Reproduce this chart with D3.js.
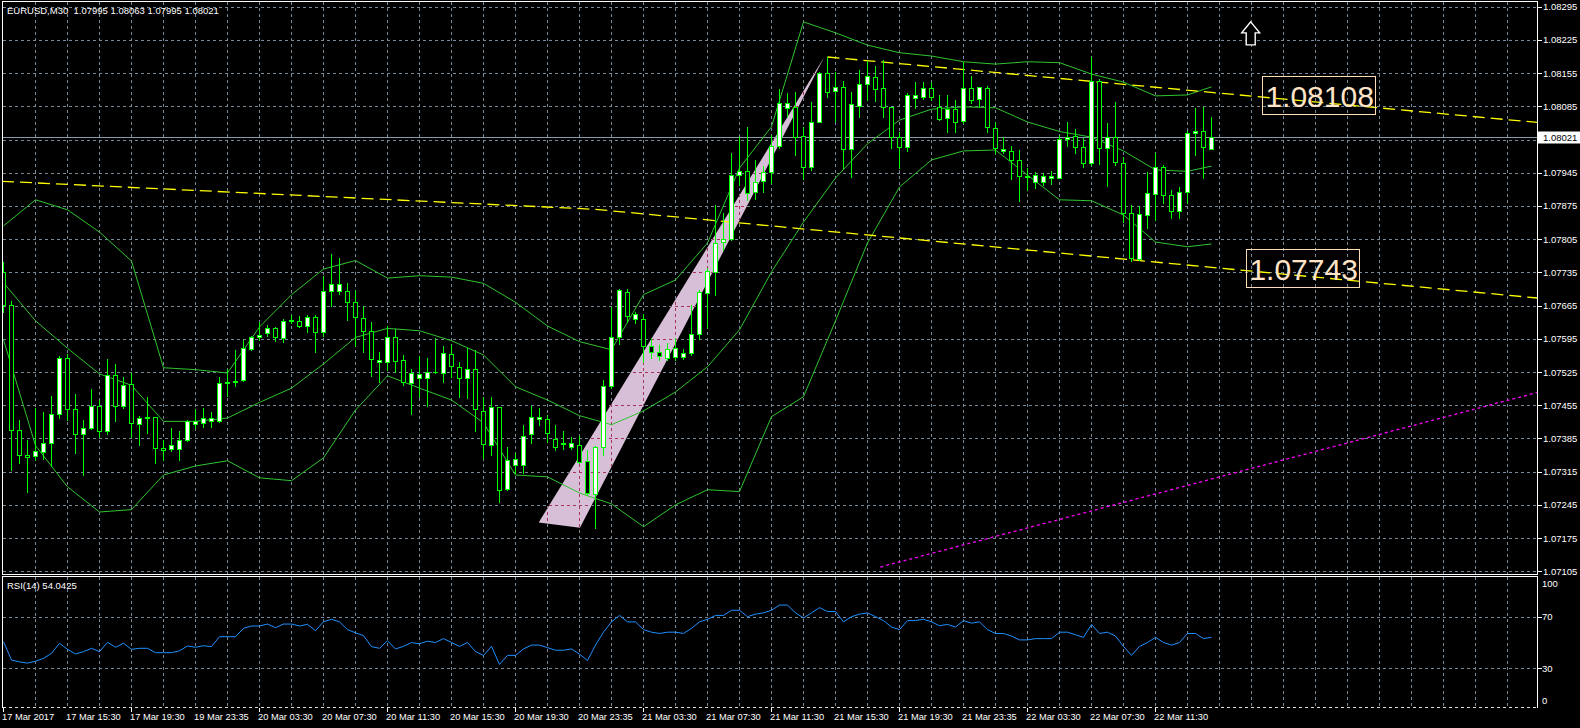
<!DOCTYPE html>
<html><head><meta charset="utf-8">
<script src="https://cdn.jsdelivr.net/npm/d3@7"></script>
<style>
html,body{margin:0;padding:0;background:#000;overflow:hidden}
svg{display:block}
text{font-family:"Liberation Sans",Arial,sans-serif}
</style></head><body>
<svg id="c" width="1580" height="728"></svg>
<script>
// ---------------- DATA ----------------
const symbolTitle = "EURUSD,M30  1.07995 1.08063 1.07995 1.08021";
const rsiTitle = "RSI(14) 54.0425";
const timeLabels = ["17 Mar 2017","17 Mar 15:30","17 Mar 19:30","19 Mar 23:35","20 Mar 03:30","20 Mar 07:30","20 Mar 11:30","20 Mar 15:30","20 Mar 19:30","20 Mar 23:35","21 Mar 03:30","21 Mar 07:30","21 Mar 11:30","21 Mar 15:30","21 Mar 19:30","21 Mar 23:35","22 Mar 03:30","22 Mar 07:30","22 Mar 11:30"];
const timeLabelBars = [0,8,16,24,32,40,48,56,64,72,80,88,96,104,112,120,128,136,144];
const priceTicks = [1.08295,1.08225,1.08155,1.08085,1.08015,1.07945,1.07875,1.07805,1.07735,1.07665,1.07595,1.07525,1.07455,1.07385,1.07315,1.07245,1.07175,1.07105];
const priceTickHidden = [1.08015]; // covered by the current-price label
const rsiTicks = [100,70,30,0];
const rsiLevels = [70,30];
const currentPrice = 1.08021;

const open = [
1.07736,1.07666,1.07403,1.07350,1.07347,1.07357,1.07375,1.07436,1.07554,1.07447,
1.07394,1.07408,1.07454,1.07400,1.07518,1.07454,1.07499,1.07415,1.07428,1.07430,
1.07365,1.07362,1.07362,1.07382,1.07415,1.07417,1.07421,1.07421,1.07502,1.07505,
1.07508,1.07573,1.07598,1.07607,1.07617,1.07596,1.07633,1.07633,1.07622,1.07641,
1.07609,1.07695,1.07695,1.07696,1.07672,1.07638,1.07612,1.07546,1.07546,1.07598,
1.07551,1.07502,1.07512,1.07512,1.07526,1.07523,1.07563,1.07535,1.07512,1.07531,
1.07442,1.07372,1.07451,1.07279,1.07329,1.07329,1.07394,1.07426,1.07426,1.07383,
1.07376,1.07368,1.07372,1.07338,1.07268,1.07367,1.07496,1.07598,1.07693,1.07636,
1.07636,1.07580,1.07567,1.07554,1.07556,1.07556,1.07565,1.07605,1.07691,1.07735,
1.07799,1.07805,1.07940,1.07949,1.07905,1.07928,1.07946,1.08002,1.08082,1.08084,
1.08023,1.07957,1.08053,1.08155,1.08118,1.08126,1.07995,1.08086,1.08132,1.08146,
1.08123,1.08083,1.08021,1.08000,1.08102,1.08104,1.08123,1.08084,1.08060,1.08079,
1.08054,1.08123,1.08100,1.08123,1.08039,1.07991,1.07991,1.07971,1.07938,1.07926,
1.07926,1.07933,1.07933,1.08016,1.08023,1.08000,1.07965,1.08139,1.07997,1.08021,
1.07966,1.07861,1.07763,1.07856,1.07900,1.07957,1.07898,1.07865,1.07905,1.08028,
1.08033,1.07995];
const high = [
1.07757,1.07675,1.07424,1.07382,1.07449,1.07440,1.07475,1.07558,1.07563,1.07479,
1.07424,1.07489,1.07466,1.07553,1.07542,1.07515,1.07524,1.07433,1.07473,1.07431,
1.07382,1.07407,1.07401,1.07424,1.07447,1.07449,1.07440,1.07514,1.07531,1.07572,
1.07593,1.07600,1.07631,1.07624,1.07620,1.07636,1.07645,1.07643,1.07645,1.07645,
1.07728,1.07774,1.07765,1.07712,1.07697,1.07664,1.07631,1.07568,1.07621,1.07615,
1.07561,1.07531,1.07558,1.07554,1.07596,1.07580,1.07582,1.07547,1.07575,1.07572,
1.07473,1.07472,1.07452,1.07368,1.07354,1.07414,1.07454,1.07449,1.07435,1.07414,
1.07400,1.07389,1.07390,1.07360,1.07369,1.07508,1.07663,1.07700,1.07700,1.07652,
1.07648,1.07597,1.07582,1.07586,1.07596,1.07573,1.07667,1.07698,1.07744,1.07877,
1.07860,1.07986,1.08020,1.08041,1.07972,1.07959,1.08025,1.08121,1.08113,1.08116,
1.08041,1.08095,1.08158,1.08189,1.08158,1.08139,1.08116,1.08162,1.08181,1.08170,
1.08183,1.08084,1.08030,1.08113,1.08137,1.08137,1.08137,1.08109,1.08109,1.08098,
1.08179,1.08149,1.08126,1.08128,1.08053,1.08020,1.08002,1.07992,1.07955,1.07947,
1.07944,1.07949,1.08025,1.08053,1.08037,1.08018,1.08190,1.08142,1.08049,1.08095,
1.07979,1.07877,1.07874,1.07947,1.07986,1.07961,1.07909,1.07916,1.08032,1.08081,
1.08084,1.08063];
const low = [
1.07652,1.07319,1.07333,1.07273,1.07340,1.07342,1.07326,1.07428,1.07424,1.07354,
1.07308,1.07405,1.07389,1.07395,1.07421,1.07450,1.07389,1.07372,1.07397,1.07333,
1.07340,1.07359,1.07340,1.07380,1.07407,1.07409,1.07409,1.07419,1.07475,1.07496,
1.07506,1.07572,1.07593,1.07600,1.07591,1.07589,1.07628,1.07620,1.07610,1.07568,
1.07600,1.07665,1.07689,1.07635,1.07579,1.07568,1.07517,1.07503,1.07530,1.07526,
1.07498,1.07437,1.07473,1.07454,1.07523,1.07505,1.07515,1.07473,1.07471,1.07400,
1.07344,1.07350,1.07252,1.07277,1.07312,1.07312,1.07375,1.07414,1.07378,1.07361,
1.07362,1.07362,1.07334,1.07266,1.07197,1.07350,1.07492,1.07584,1.07631,1.07628,
1.07546,1.07555,1.07551,1.07551,1.07551,1.07552,1.07561,1.07594,1.07617,1.07688,
1.07782,1.07803,1.07919,1.07888,1.07889,1.07905,1.07923,1.07997,1.08062,1.07983,
1.07931,1.07951,1.08051,1.08105,1.08055,1.07956,1.07936,1.08062,1.08098,1.08097,
1.08063,1.07997,1.07955,1.07990,1.08081,1.08100,1.08098,1.08056,1.08030,1.08030,
1.08049,1.08091,1.08084,1.08030,1.07986,1.07986,1.07931,1.07886,1.07909,1.07912,
1.07919,1.07921,1.07933,1.08002,1.07986,1.07957,1.07961,1.07964,1.07917,1.07961,
1.07842,1.07758,1.07761,1.07828,1.07846,1.07881,1.07849,1.07849,1.07882,1.07983,
1.07933,1.07995];
const close = [
1.07666,1.07402,1.07350,1.07346,1.07359,1.07375,1.07436,1.07554,1.07447,1.07394,
1.07407,1.07454,1.07400,1.07519,1.07454,1.07498,1.07417,1.07428,1.07430,1.07365,
1.07360,1.07371,1.07381,1.07422,1.07422,1.07428,1.07428,1.07502,1.07505,1.07506,
1.07575,1.07598,1.07603,1.07617,1.07598,1.07633,1.07635,1.07622,1.07641,1.07610,
1.07696,1.07710,1.07710,1.07672,1.07641,1.07612,1.07552,1.07551,1.07598,1.07549,
1.07505,1.07523,1.07521,1.07526,1.07525,1.07565,1.07537,1.07512,1.07531,1.07447,
1.07374,1.07451,1.07277,1.07340,1.07341,1.07391,1.07431,1.07431,1.07397,1.07367,
1.07374,1.07375,1.07336,1.07270,1.07367,1.07496,1.07598,1.07697,1.07643,1.07648,
1.07580,1.07567,1.07559,1.07573,1.07575,1.07565,1.07605,1.07693,1.07737,1.07797,
1.07805,1.07940,1.07949,1.07902,1.07926,1.07946,1.08002,1.08091,1.08091,1.08021,
1.07957,1.08053,1.08155,1.08116,1.08126,1.07995,1.08089,1.08132,1.08148,1.08121,
1.08083,1.08021,1.08000,1.08109,1.08109,1.08123,1.08104,1.08058,1.08079,1.08053,
1.08123,1.08098,1.08125,1.08041,1.07997,1.07995,1.07971,1.07938,1.07937,1.07940,
1.07938,1.07938,1.08016,1.08021,1.07999,1.07966,1.08139,1.07997,1.08021,1.07968,
1.07861,1.07765,1.07858,1.07903,1.07957,1.07898,1.07865,1.07905,1.08028,1.08033,
1.07999,1.08021];

// Bollinger bands at every 4th bar
const bbBars = [0,4,8,12,16,20,24,28,32,36,40,44,48,52,56,60,64,68,72,76,80,84,88,92,96,100,104,108,112,116,120,124,128,132,136,140,144,148,151];
const bbUpper = [1.07833,1.07888,1.07867,1.07820,1.07759,1.07534,1.07530,1.07523,1.07620,1.07688,1.07742,1.07760,1.07723,1.07728,1.07725,1.07712,1.07672,1.07622,1.07589,1.07572,1.07688,1.07719,1.07797,1.07955,1.08042,1.08263,1.08240,1.08214,1.08198,1.08191,1.08179,1.08174,1.08179,1.08177,1.08153,1.08136,1.08107,1.08109,1.08126];
const bbMiddle = [1.07713,1.07633,1.07575,1.07521,1.07497,1.07421,1.07421,1.07428,1.07461,1.07491,1.07542,1.07598,1.07617,1.07612,1.07591,1.07561,1.07494,1.07466,1.07433,1.07414,1.07443,1.07483,1.07536,1.07614,1.07736,1.07841,1.07934,1.08006,1.08056,1.08079,1.08084,1.08082,1.08052,1.08032,1.08020,1.07991,1.07951,1.07948,1.07959];
const bbLower = [1.07593,1.07370,1.07283,1.07230,1.07235,1.07308,1.07327,1.07338,1.07302,1.07296,1.07344,1.07445,1.07517,1.07491,1.07466,1.07418,1.07308,1.07304,1.07270,1.07247,1.07199,1.07245,1.07277,1.07273,1.07431,1.07473,1.07633,1.07797,1.07915,1.07972,1.07991,1.07993,1.07940,1.07888,1.07886,1.07856,1.07799,1.07789,1.07795];

const rsi = [
50.6,36.4,35,34,35.5,37.7,41.6,49.4,44.7,41.1,
42.9,45.5,42.9,50.2,46.3,49.4,44.7,45.5,45.5,42.1,
42.1,42.1,43.6,47.3,46.3,47.5,46.8,54.5,54.5,54.5,
61,62.8,62.8,64.3,61.5,64.3,64.3,62.8,64.1,59.1,
66.1,68,66,60,57.5,55.3,46.8,45.5,51.4,45,
47,50,49,51,50,53,50,47,50,43,
40,47,33,40,40,45,48,48,46,44,
44,45,41,36,48,58,66,71,66,66,
60,58,57,58,58,57,61,66,68,71,
71,75,75,70,72,73,75,79,79,73,
69,73,77,74,74,66,70,72,73,70,
67,62,60,67,67,68,66,63,64,62,
67,65,66,60,57,57,55,52,52,53,
53,53,58,58,56,54,64,57,58,55,
47,40,47,50,54,50,48,50,57,57,
53,54.04];

// drawn objects (bar index, price)
const trendUpper = [[103,1.08189],[191.75,1.08051]];
const trendLower = [[-0.19,1.07927],[73.9,1.07868],[191.75,1.07681]];
const magentaTrend = [[109.6,1.07114],[191.75,1.07482]];
const triangleBars = [66.9,72.06,102.6];
const trianglePrices = [1.07208,1.07197,1.08189];
const priceLabels = [
  {text:"1.08108", bar:157.3, price:1.08149},
  {text:"1.07743", bar:155.3, price:1.07784}
];
const arrowAnchor = {bar:155.9, price:1.08263};

// ---------------- LAYOUT ----------------
const svg = d3.select("#c");
const L = 2.5, R = 1537.5, T = 1.5, B = 574.5, RT = 576.5, RB = 707.5;
const x = d3.scaleLinear().domain([0,1]).range([3.5,11.5]);
const y = d3.scaleLinear().domain([1.07105,1.08295]).range([571.3,6.7]);
const yr = d3.scaleLinear().domain([0,100]).range([707,578]);
const px = v => Math.round(v) + 0.5;
const gridColor = "#778899";

svg.append("rect").attr("width",1580).attr("height",728).attr("fill","#000");

const defs = svg.append("defs");
defs.append("clipPath").attr("id","mainClip").append("rect")
  .attr("x",L).attr("y",T).attr("width",R-L).attr("height",B-T);
defs.append("clipPath").attr("id","rsiClip").append("rect")
  .attr("x",L).attr("y",RT).attr("width",R-L).attr("height",RB-RT);
const triPts = triangleBars.map((b,i)=>[x(b), y(trianglePrices[i])]);
defs.append("clipPath").attr("id","triClip").append("polygon")
  .attr("points", triPts.map(p=>p.join(",")).join(" "));

const gridBars = d3.range(4, 192, 4);

function drawGrid(g, color){
  g.selectAll("line.h").data(priceTicks).join("line")
    .attr("x1",L).attr("x2",R)
    .attr("y1",d=>px(y(d))).attr("y2",d=>px(y(d)))
    .attr("stroke",color).attr("stroke-dasharray","3,3");
  g.selectAll("line.v").data(gridBars).join("line").attr("class","v")
    .attr("x1",d=>x(d)).attr("x2",d=>x(d)).attr("y1",T).attr("y2",B)
    .attr("stroke",color).attr("stroke-dasharray","3,3");
}
const main = svg.append("g").attr("clip-path","url(#mainClip)").attr("shape-rendering","crispEdges");

// triangle object
main.append("polygon").attr("points", triPts.map(p=>p.join(",")).join(" "))
  .attr("fill","#d8bfd8").attr("shape-rendering","auto");
// grid
drawGrid(main.append("g"), gridColor);
drawGrid(main.append("g").attr("clip-path","url(#triClip)"), "#a8345a");

// current price line
main.append("line").attr("x1",L).attr("x2",R)
  .attr("y1",px(y(currentPrice))).attr("y2",px(y(currentPrice)))
  .attr("stroke","#8a9aaa");

// bollinger bands
const bbLine = d3.line().x(d=>x(d[0])).y(d=>y(d[1]));
[bbUpper,bbMiddle,bbLower].forEach(arr=>{
  main.append("path").datum(bbBars.map((b,i)=>[b,arr[i]]))
    .attr("d",bbLine).attr("fill","none").attr("stroke","#2fc42f").attr("stroke-width",1)
    .attr("shape-rendering","auto");
});

// trend lines
const tLine = d3.line().x(d=>x(d[0])).y(d=>y(d[1]));
function trend(pts, color, dash){
  main.append("path").datum(pts).attr("d",tLine).attr("fill","none")
    .attr("stroke",color).attr("stroke-width",1.3).attr("stroke-dasharray",dash)
    .attr("shape-rendering","auto");
}
trend(trendLower, "#ffff00", "12,6");
trend(trendUpper, "#ffff00", "12,6");
trend(magentaTrend, "#ff00ff", "3,3");

// candles
const idx = d3.range(open.length);
const cg = main.append("g");
cg.selectAll("line.w").data(idx).join("line")
  .attr("x1",i=>x(i)).attr("x2",i=>x(i))
  .attr("y1",i=>Math.round(y(high[i]))).attr("y2",i=>Math.round(y(low[i]))+1)
  .attr("stroke","#00ff00");
cg.selectAll("rect.b").data(idx).join("rect")
  .attr("x",i=>x(i)-2).attr("width",4)
  .attr("y",i=>px(y(Math.max(open[i],close[i]))))
  .attr("height",i=>Math.max(0.01, Math.round(y(Math.min(open[i],close[i]))) - Math.round(y(Math.max(open[i],close[i])))))
  .attr("fill",i=>close[i]>=open[i]?"#ffffff":"#000000")
  .attr("stroke","#00ff00");

// price labels objects
priceLabels.forEach(p=>{
  const bx = x(p.bar), by = y(p.price);
  main.append("rect").attr("x",px(bx)).attr("y",px(by)).attr("width",113).attr("height",38)
    .attr("fill","none").attr("stroke","#ffdcb8");
  main.append("text").attr("x",bx+3.5).attr("y",by+30.7).text(p.text)
    .attr("font-size","30px").attr("fill","#ffe4c8").attr("shape-rendering","auto");
});
// arrow object
{
  const ax = x(arrowAnchor.bar), ay = y(arrowAnchor.price);
  const pts = [[0,0],[9,11],[4.5,11],[4.5,23],[-4.5,23],[-4.5,11],[-9,11]];
  main.append("polygon").attr("points",pts.map(p=>[ax+p[0],ay+p[1]].join(",")).join(" "))
    .attr("fill","#000").attr("stroke","#fff").attr("stroke-width",1.4).attr("shape-rendering","auto");
}

// RSI panel
const rg = svg.append("g").attr("clip-path","url(#rsiClip)").attr("shape-rendering","crispEdges");
rg.selectAll("line.l").data(rsiLevels).join("line")
  .attr("x1",L).attr("x2",R).attr("y1",d=>px(yr(d))).attr("y2",d=>px(yr(d)))
  .attr("stroke",gridColor).attr("stroke-dasharray","3,3");
rg.selectAll("line.v").data(gridBars).join("line").attr("class","v")
  .attr("x1",d=>x(d)).attr("x2",d=>x(d)).attr("y1",RT).attr("y2",RB)
  .attr("stroke",gridColor).attr("stroke-dasharray","3,3");
rg.append("path").datum(rsi).attr("fill","none").attr("stroke","#1e90ff").attr("stroke-width",1)
  .attr("shape-rendering","auto")
  .attr("d", d3.line().x((d,i)=>x(i)).y(d=>yr(d)));

// borders
const bd = svg.append("g").attr("shape-rendering","crispEdges");
bd.append("rect").attr("x",L).attr("y",T).attr("width",R-L).attr("height",B-T).attr("fill","none").attr("stroke","#fff");
bd.append("path").attr("d",`M${L},${RB}V${RT}H${R}V${RB}`).attr("fill","none").attr("stroke","#fff");
bd.append("line").attr("x1",L).attr("x2",R).attr("y1",RB).attr("y2",RB).attr("stroke","#ddd").attr("stroke-dasharray","3,3");

// right price axis
const ax = svg.append("g");
const shownTicks = priceTicks.filter(p=>!priceTickHidden.includes(p));
ax.selectAll("line").data(shownTicks).join("line").attr("shape-rendering","crispEdges")
  .attr("x1",R).attr("x2",R+4).attr("y1",d=>px(y(d))).attr("y2",d=>px(y(d))).attr("stroke","#fff");
ax.selectAll("text").data(shownTicks).join("text")
  .attr("x",1543).attr("y",d=>y(d)+3.5).attr("fill","#fff").attr("font-size","9.5px")
  .text(d=>d.toFixed(5));
// current price tag
ax.append("rect").attr("x",R).attr("y",px(y(currentPrice))-6).attr("width",43).attr("height",12).attr("fill","#fff");
ax.append("text").attr("x",1543).attr("y",y(currentPrice)+3.8).attr("fill","#000").attr("font-size","9.5px").text(currentPrice.toFixed(5));

// RSI axis
svg.selectAll("text.rt").data(rsiTicks).join("text")
  .attr("x",1542).attr("y",d=> d===100? yr(d)+8.5 : d===0 ? yr(d)-3.5 : yr(d)+3.5)
  .attr("fill","#fff").attr("font-size","9.5px").text(d=>d);
svg.selectAll("line.rtk").data([70,30]).join("line").attr("shape-rendering","crispEdges")
  .attr("x1",R).attr("x2",R+4).attr("y1",d=>px(yr(d))).attr("y2",d=>px(yr(d))).attr("stroke","#fff");

// time axis
const tg = svg.append("g");
tg.selectAll("text").data(timeLabels).join("text")
  .attr("x",(d,i)=>x(timeLabelBars[i])-1.5).attr("y",719.5)
  .attr("fill","#fff").attr("font-size","9.3px").text(d=>d);
tg.selectAll("line").data(timeLabelBars.filter((b,i)=>i%2===0)).join("line").attr("shape-rendering","crispEdges")
  .attr("x1",d=>x(d)).attr("x2",d=>x(d)).attr("y1",RB).attr("y2",RB+4).attr("stroke","#fff");

// titles
svg.append("text").attr("x",7).attr("y",13.5).attr("fill","#fff").attr("font-size","9.5px")
  .style("white-space","pre").text(symbolTitle);
svg.append("text").attr("x",7).attr("y",589).attr("fill","#fff").attr("font-size","9.5px").text(rsiTitle);
</script>
</body></html>
